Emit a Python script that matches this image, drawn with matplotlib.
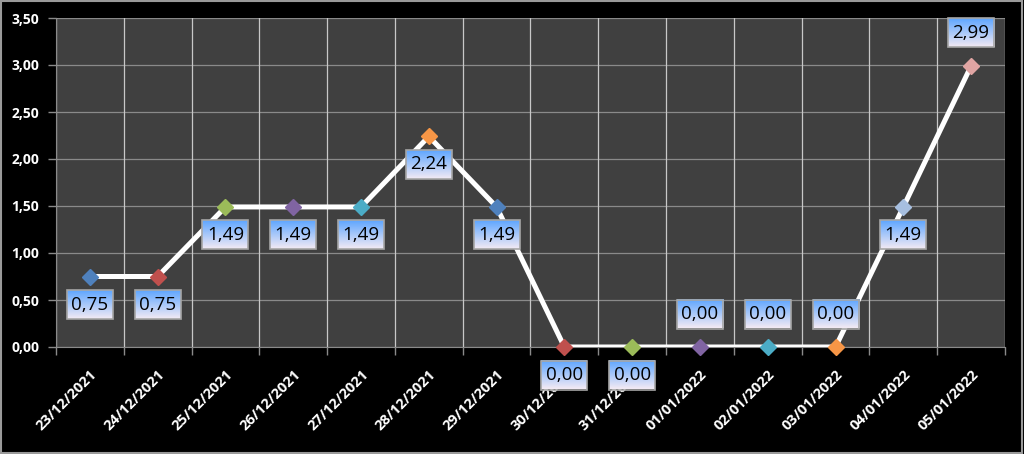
import numpy as np
import matplotlib
matplotlib.use("Agg")
import matplotlib.pyplot as plt
from matplotlib.patches import Rectangle
from matplotlib.ticker import FuncFormatter, MultipleLocator

# datos del grafico
fechas = ["23/12/2021", "24/12/2021", "25/12/2021", "26/12/2021", "27/12/2021",
          "28/12/2021", "29/12/2021", "30/12/2021", "31/12/2021", "01/01/2022",
          "02/01/2022", "03/01/2022", "04/01/2022", "05/01/2022"]
valores = [0.75, 0.75, 1.49, 1.49, 1.49, 2.24, 1.49, 0.00, 0.00, 0.00, 0.00, 0.00, 1.49, 2.99]
# posicion de la etiqueta: -1 debajo, 1 encima
lado_etiqueta = [-1, -1, -1, -1, -1, -1, -1, -1, -1, 1, 1, 1, -1, 1]
colores_marcador = ["#4f81bd", "#c0504d", "#9bbb59", "#8064a2", "#4bacc6", "#f79646",
                    "#4f81bd", "#c0504d", "#9bbb59", "#8064a2", "#4bacc6", "#f79646",
                    "#a7bfe0", "#e0a5a3"]

plt.rcParams["font.family"] = ["Open Sans", "DejaVu Sans"]

W, H = 1024, 454
fig = plt.figure(figsize=(W / 100, H / 100), dpi=100, facecolor="black")
ax = fig.add_axes([56 / W, 1 - 347 / H, (1005 - 56) / W, (347 - 18) / H])
ax.set_facecolor("#404040")

x = np.arange(len(fechas))

# rejilla
for b in np.arange(-0.5, len(fechas), 1.0):
    ax.axvline(b, color="#c8c8c8", lw=0.9, zorder=1)
ax.yaxis.set_major_locator(MultipleLocator(0.5))
ax.grid(axis="y", color="#8a8a8a", lw=0.9, zorder=1)
ax.set_axisbelow(True)

# linea y marcadores
ax.plot(x, valores, color="white", lw=3.6, zorder=3, solid_capstyle="round")
for xi, yi, c in zip(x, valores, colores_marcador):
    ax.plot(xi, yi, marker="D", ms=8.5, color=c, mec=c, zorder=4, clip_on=False)

# etiquetas de datos con degradado
px_x = (1005 - 56) / len(fechas)
px_y = (347 - 18) / 3.5
caja_w = 46 / px_x
caja_h = 29 / px_y
grad = np.linspace(0, 1, 64).reshape(-1, 1)
top = np.array(matplotlib.colors.to_rgb("#5ea6ff"))
bot = np.array(matplotlib.colors.to_rgb("#f3eaf4"))
img = top[None, None, :] * (1 - grad[..., None]) + bot[None, None, :] * grad[..., None]
for xi, yi, lado in zip(x, valores, lado_etiqueta):
    off = (33 if lado > 0 else 28) / px_y
    cy = yi + lado * off
    x0, x1 = xi - caja_w / 2, xi + caja_w / 2
    y0, y1 = cy - caja_h / 2, cy + caja_h / 2
    ax.imshow(img, extent=(x0, x1, y0, y1), aspect="auto", zorder=5,
              interpolation="bilinear", clip_on=False)
    ax.add_patch(Rectangle((x0, y0), caja_w, caja_h, fill=False, ec="#a6a6a6",
                           lw=1.2, zorder=6, clip_on=False))
    ax.text(xi, cy, f"{yi:.2f}".replace(".", ","), ha="center", va="center",
            fontsize=13.5, color="black", zorder=7, clip_on=False)
ax.set_xlim(-0.5, len(fechas) - 0.5)
ax.set_ylim(0, 3.5)

# ejes
ax.set_xticks(np.arange(-0.5, len(fechas), 1.0))
ax.set_xticklabels([])
ax.set_xticks(x, minor=True)
ax.set_xticklabels(fechas, minor=True, rotation=45, ha="right", va="top",
                   rotation_mode="anchor", fontsize=10.5, fontweight="bold", color="white")
ax.tick_params(axis="x", which="major", length=6, color="#8a8a8a", width=1)
ax.tick_params(axis="x", which="minor", length=0, pad=15)
ax.yaxis.set_major_formatter(FuncFormatter(lambda v, p: f"{v:.2f}".replace(".", ",")))
ax.tick_params(axis="y", length=6, color="#8a8a8a", width=1, labelcolor="white",
               labelsize=10, pad=6)
for t in ax.get_yticklabels():
    t.set_fontweight("bold")
for s in ax.spines.values():
    s.set_visible(False)
ax.spines["bottom"].set_visible(True)
ax.spines["bottom"].set_color("#8a8a8a")
ax.spines["left"].set_visible(True)
ax.spines["left"].set_color("#8a8a8a")

# marco de la figura
fig.patches.append(Rectangle((0.001, 0.002), 0.997, 0.995, transform=fig.transFigure,
                             fill=False, ec="#9a9a9a", lw=1.5))

fig.savefig("out.png", dpi=100, facecolor="black")
